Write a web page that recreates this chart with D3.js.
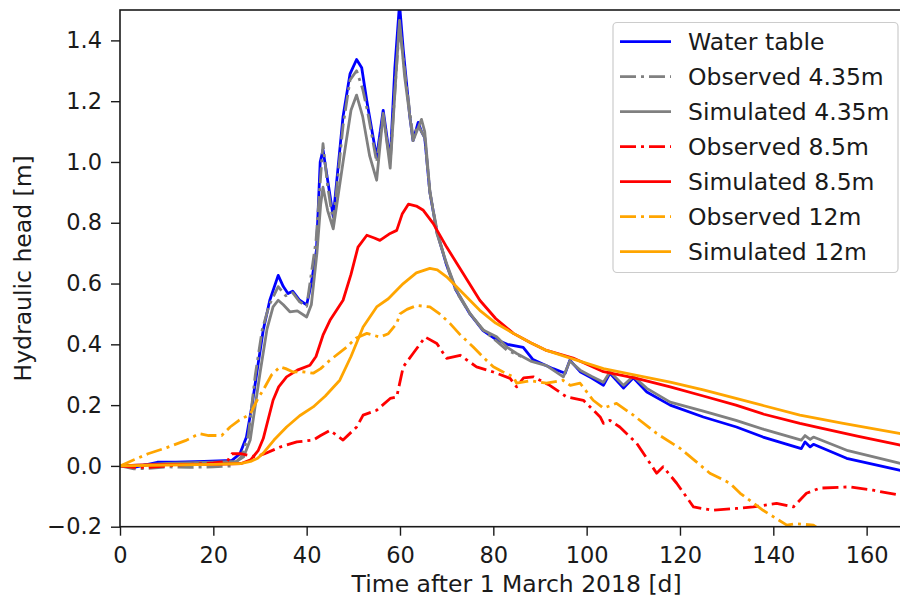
<!DOCTYPE html>
<html>
<head>
<meta charset="utf-8">
<script src="https://cdn.jsdelivr.net/npm/d3@7"></script>
<style>
  html, body { margin: 0; padding: 0; background: #fff; }
  svg { display: block; font-family: "DejaVu Sans", sans-serif; }
</style>
</head>
<body>
<svg id="chart" width="900" height="599"></svg>
<script>
// ---- Data (day, hydraulic head [m]) ----
const waterTable = [[0,0],[3,-0.005],[6,0.005],[8,0.012],[12,0.012],[18,0.015],[24,0.018],[25.7,0.04],[27.1,0.095],[28.3,0.2],[29.3,0.305],[30.7,0.447],[32.1,0.545],[33.9,0.627],[35,0.59],[36,0.567],[37,0.575],[38.5,0.545],[40,0.53],[41,0.6],[42.1,0.71],[42.9,1.0],[43.5,1.04],[44.3,0.96],[45.7,0.82],[47.8,1.15],[49.3,1.29],[50.7,1.337],[51.8,1.31],[52.9,1.2],[55,1.015],[56.4,1.17],[57.9,1.005],[58.9,1.31],[59.9,1.52],[60.7,1.37],[62.1,1.15],[62.8,1.07],[63.9,1.13],[64.6,1.1],[65.3,1.08],[66.4,0.9],[67.9,0.77],[70,0.66],[72.1,0.575],[75,0.5],[77.8,0.445],[80.7,0.415],[83,0.4],[86.4,0.39],[88.5,0.35],[92.8,0.32],[95.4,0.305],[96.4,0.348],[98.6,0.31],[101,0.29],[103.6,0.265],[105,0.305],[107.9,0.256],[110,0.29],[112.9,0.243],[117.9,0.2],[125,0.161],[132.1,0.128],[137.8,0.095],[146,0.057],[146.8,0.079],[147.9,0.0625],[148.6,0.071],[155.7,0.025],[167,-0.014],[170,-0.025]];

const observed435 = [[0,0],[3,-0.01],[6,-0.008],[10,-0.003],[15,-0.005],[20,-0.003],[24,0.0],[26,0.03],[27.5,0.1],[29,0.3],[30.5,0.45],[32,0.53],[33.9,0.59],[35.5,0.56],[37,0.57],[38.5,0.54],[40,0.525],[42,0.74],[43.5,1.06],[44.5,0.92],[45.7,0.8],[47.8,1.12],[49.3,1.27],[50.7,1.3],[52,1.24],[53,1.17],[55,1.0],[56.4,1.15],[57.9,1.0],[59.2,1.3],[59.9,1.45],[61,1.3],[62.8,1.08],[63.9,1.12],[64.6,1.1],[65.3,1.08],[66.4,0.9],[68,0.77],[70,0.66],[72,0.575],[75,0.5],[78,0.445],[80.7,0.41],[83,0.38],[86,0.36]];

const simulated435 = [[0,0],[5,0.003],[10,0.008],[20,0.012],[25,0.015],[26.5,0.03],[27.9,0.085],[30,0.305],[31.5,0.45],[32.8,0.523],[33.9,0.545],[35,0.53],[36.4,0.507],[38,0.51],[40,0.49],[41,0.53],[42.2,0.7],[43,0.86],[43.5,0.917],[44.5,0.84],[45.7,0.78],[47.8,1.0],[49.5,1.17],[50.7,1.22],[52,1.15],[53.5,1.02],[55,0.94],[56.4,1.16],[57.9,0.98],[59.2,1.3],[59.9,1.466],[61,1.28],[62.8,1.07],[64.6,1.14],[65.3,1.1],[66.4,0.906],[67.9,0.765],[70,0.665],[72.1,0.578],[75,0.502],[77.8,0.447],[80.7,0.425],[83,0.39],[85,0.37],[88,0.345],[91.4,0.33],[95,0.293],[96.4,0.345],[98.6,0.315],[101,0.295],[103.6,0.275],[105,0.31],[107.9,0.265],[110,0.295],[112.9,0.255],[117.9,0.21],[125,0.18],[132,0.15],[138,0.12],[146,0.085],[146.8,0.1],[147.9,0.087],[148.6,0.095],[156,0.05],[167,0.009],[170,-0.002]];

const observed85 = [[0,0],[3,-0.005],[6,-0.005],[10,0.0],[15,0.005],[20,0.01],[23,0.015],[24,0.04],[26,0.04],[27.5,0.035],[29,0.03],[31,0.04],[34.3,0.062],[37.9,0.079],[41.4,0.085],[43,0.1],[45,0.117],[46.5,0.1],[47.8,0.085],[50.7,0.128],[52.1,0.167],[55,0.183],[57.9,0.222],[59.3,0.227],[60.7,0.326],[62.8,0.37],[65.4,0.424],[67.9,0.403],[70,0.354],[72.9,0.364],[76.4,0.326],[80,0.309],[83.6,0.288],[85,0.26],[86.5,0.29],[88.6,0.293],[92.1,0.265],[95.7,0.227],[99.3,0.216],[102.9,0.161],[103.6,0.14],[105,0.15],[107.1,0.128],[110.7,0.075],[115,-0.024],[116.4,-0.003],[119.3,-0.057],[122.9,-0.135],[127.1,-0.146],[132.1,-0.14],[135.7,-0.135],[140.7,-0.123],[144.3,-0.135],[147.1,-0.09],[150,-0.073],[156.4,-0.069],[161.4,-0.08],[167,-0.096],[170,-0.1]];

const simulated85 = [[0,0],[5,0.003],[10,0.005],[20,0.005],[26,0.008],[28,0.02],[29.6,0.05],[30.7,0.09],[32.8,0.216],[34,0.26],[35.7,0.293],[38,0.315],[40.7,0.331],[42,0.36],[43.5,0.43],[45,0.479],[47.8,0.545],[49.5,0.63],[51,0.72],[52.9,0.759],[54.5,0.75],[55.7,0.742],[57.9,0.765],[59.3,0.775],[60.5,0.83],[61.8,0.861],[63.5,0.855],[65,0.841],[67.1,0.798],[70,0.72],[73.5,0.634],[77.1,0.545],[80.5,0.485],[84.3,0.436],[88,0.405],[91.4,0.38],[97.1,0.355],[103.6,0.31],[110.7,0.288],[117.9,0.26],[125,0.23],[132,0.2],[138,0.17],[145.7,0.14],[150,0.125],[158,0.098],[167,0.069],[170,0.058]];

const observed12 = [[0,0],[3,0.02],[6,0.04],[10,0.06],[14,0.083],[17,0.106],[19,0.1],[21.8,0.1],[23.6,0.128],[25.5,0.15],[27.9,0.17],[29.5,0.22],[30.7,0.25],[32.5,0.3],[34.3,0.326],[35.5,0.32],[37.1,0.309],[39,0.31],[41.4,0.305],[43,0.32],[45,0.348],[48.6,0.391],[50.5,0.42],[52.9,0.436],[55.7,0.424],[57.5,0.435],[59.3,0.469],[60,0.5],[61.5,0.515],[63.6,0.528],[66.4,0.523],[68.5,0.5],[70.7,0.469],[73,0.43],[75.7,0.391],[78,0.355],[80,0.326],[82,0.31],[84.3,0.293],[85,0.272],[88,0.28],[91.4,0.272],[94.9,0.282],[96.5,0.265],[98.6,0.272],[101.4,0.216],[103.6,0.19],[106.4,0.206],[110,0.167],[115,0.107],[120,0.058],[123,0.02],[126.4,-0.024],[130.7,-0.057],[132.9,-0.09],[137.8,-0.146],[142.9,-0.195],[145,-0.19],[148.6,-0.195],[150,-0.21]];

const simulated12 = [[0,0],[10,0.003],[20,0.005],[26,0.008],[28,0.015],[29.5,0.025],[30.7,0.042],[33,0.085],[35.7,0.128],[38.5,0.165],[41.4,0.194],[44,0.23],[47.1,0.282],[49.5,0.36],[52.1,0.457],[55,0.523],[57.5,0.55],[60.7,0.6],[63.5,0.635],[66.4,0.65],[68,0.645],[70,0.622],[73.5,0.568],[77.1,0.512],[80.5,0.47],[84.3,0.436],[88,0.405],[91.4,0.38],[97,0.352],[103.6,0.32],[110.7,0.298],[117.9,0.276],[125,0.25],[132,0.222],[138,0.198],[145.7,0.167],[155,0.14],[167,0.107],[170,0.098]];

const seriesNames = ["Water table","Observed 4.35m","Simulated 4.35m","Observed 8.5m","Simulated 8.5m","Observed 12m","Simulated 12m"];
const seriesData = [waterTable, observed435, simulated435, observed85, simulated85, observed12, simulated12];
const seriesColors = ["#0000ff","#808080","#808080","#ff0000","#ff0000","#ffa500","#ffa500"];
const seriesDashed = [false, true, false, true, false, true, false];

const xTicks = [0,20,40,60,80,100,120,140,160];
const yTicks = [-0.2,0,0.2,0.4,0.6,0.8,1.0,1.2,1.4];
const xDomain = [0,170];
const yDomain = [-0.2,1.5];
const xLabel = "Time after 1 March 2018 [d]";
const yLabel = "Hydraulic head [m]";

// ---- Layout ----
const plot = {left:120, right:913.3, top:10, bottom:526.7};
const svg = d3.select("#chart");
const x = d3.scaleLinear().domain(xDomain).range([plot.left, plot.right]);
const y = d3.scaleLinear().domain(yDomain).range([plot.bottom, plot.top]);
const tickFont = 22.5;
const labelFont = 23.5;
const legendFont = 23.5;
const ink = "#1a1a1a";
const lw = 2.8;
const dash = "16,5,3,5";

svg.append("defs").append("clipPath").attr("id","clip")
  .append("rect").attr("x",plot.left).attr("y",plot.top)
  .attr("width",plot.right-plot.left).attr("height",plot.bottom-plot.top);

const line = d3.line().x(d=>x(d[0])).y(d=>y(d[1]));
const g = svg.append("g").attr("clip-path","url(#clip)");
seriesData.forEach((data,i)=>{
  g.append("path").attr("d",line(data)).attr("fill","none")
    .attr("stroke",seriesColors[i]).attr("stroke-width",lw)
    .attr("stroke-linejoin","round")
    .attr("stroke-dasharray",seriesDashed[i]?dash:null);
});

// Axes
const fmt = d => d3.format(".1f")(d).replace("-","\u2212");
const xAxis = svg.append("g").attr("transform",`translate(0,${plot.bottom})`)
  .call(d3.axisBottom(x).tickValues(xTicks).tickSize(9).tickPadding(11).tickSizeOuter(0));
const yAxis = svg.append("g").attr("transform",`translate(${plot.left},0)`)
  .call(d3.axisLeft(y).tickValues(yTicks).tickFormat(fmt).tickSize(9).tickPadding(9).tickSizeOuter(0));
[xAxis,yAxis].forEach(a=>{
  a.selectAll("text").attr("font-size",tickFont).attr("font-family","DejaVu Sans").attr("fill",ink);
  a.selectAll("line").attr("stroke",ink).attr("stroke-width",1.4);
  a.select(".domain").remove();
});

// Frame
svg.append("rect").attr("x",plot.left).attr("y",plot.top)
  .attr("width",plot.right-plot.left).attr("height",plot.bottom-plot.top)
  .attr("fill","none").attr("stroke",ink).attr("stroke-width",1.6);

// Labels
svg.append("text").attr("x",(plot.left+plot.right)/2).attr("y",592)
  .attr("text-anchor","middle").attr("font-size",labelFont).attr("fill",ink).text(xLabel);
svg.append("text").attr("transform",`translate(31,${(plot.top+plot.bottom)/2}) rotate(-90)`)
  .attr("text-anchor","middle").attr("font-size",labelFont).attr("fill",ink).text(yLabel);

// Legend
const lg = svg.append("g");
lg.append("rect").attr("x",613).attr("y",22.5).attr("width",285).attr("height",250)
  .attr("rx",4).attr("fill","#fff").attr("fill-opacity",0.85)
  .attr("stroke","#cccccc").attr("stroke-width",1.2);
seriesNames.forEach((name,i)=>{
  const cy = 41.7 + i*35;
  lg.append("line").attr("x1",620).attr("x2",671).attr("y1",cy).attr("y2",cy)
    .attr("stroke",seriesColors[i]).attr("stroke-width",lw)
    .attr("stroke-dasharray",seriesDashed[i]?dash:null);
  lg.append("text").attr("x",688).attr("y",cy+8.5).attr("font-size",legendFont)
    .attr("fill",ink).text(name);
});
</script>
</body>
</html>
